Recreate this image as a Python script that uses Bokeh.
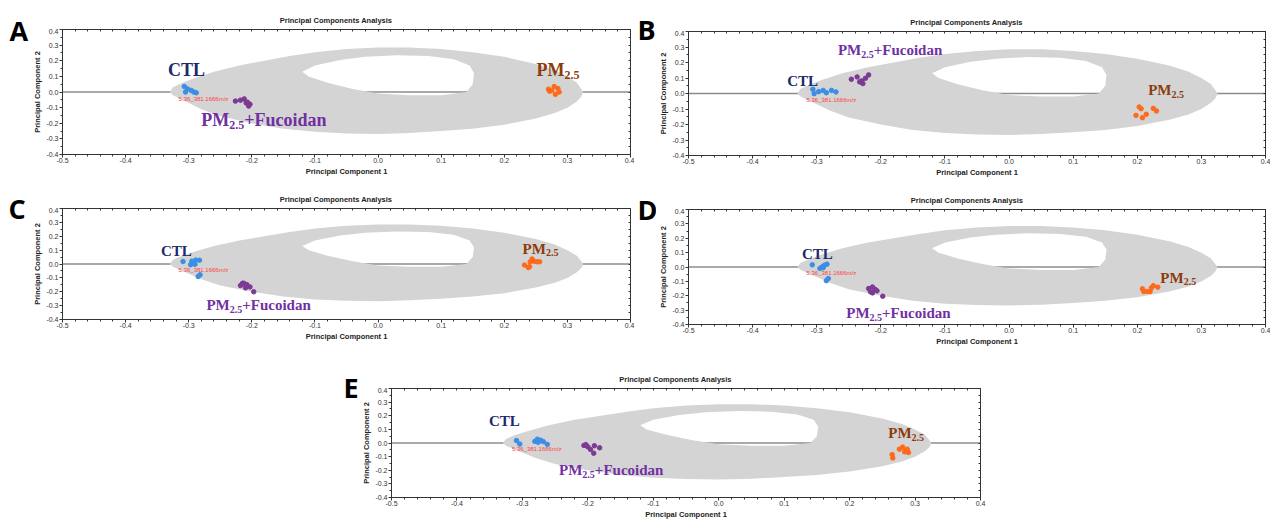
import numpy as np
from bokeh.plotting import figure
from bokeh.layouts import column, row, Spacer
from bokeh.models import Label, Span, FixedTicker, LinearAxis, Range1d
from bokeh.core.properties import value
from bokeh.embed import file_html
from bokeh.resources import INLINE

# ---------------- axis ticks ----------------
X_TICKS = [-0.5, -0.4, -0.3, -0.2, -0.1, 0.0, 0.1, 0.2, 0.3, 0.4]
X_TICK_LABELS = ["-0.5", "-0.4", "-0.3", "-0.2", "-0.1", "0.0", "0.1", "0.2", "0.3", "0.4"]
Y_TICKS = [-0.4, -0.3, -0.2, -0.1, 0.0, 0.1, 0.2, 0.3, 0.4]
Y_TICK_LABELS = ["-0.4", "-0.3", "-0.2", "-0.1", "0.0", "0.1", "0.2", "0.3", "0.4"]

# ---------------- loading cloud outline (grey) ----------------
CLOUD_X = [-0.330, -0.325, -0.310, -0.290, -0.260, -0.220, -0.180, -0.140, -0.100, -0.050,
           0.000, 0.050, 0.100, 0.150, 0.200, 0.250, 0.280, 0.300, 0.315, 0.322, 0.325,
           0.322, 0.315, 0.300, 0.280, 0.250, 0.200, 0.150, 0.100, 0.050, 0.000,
           -0.050, -0.100, -0.150, -0.200, -0.250, -0.280, -0.300, -0.315, -0.325]
CLOUD_Y = [0.000, 0.030, 0.060, 0.090, 0.130, 0.170, 0.200, 0.230, 0.255, 0.275,
           0.285, 0.285, 0.275, 0.255, 0.225, 0.180, 0.140, 0.100, 0.060, 0.020, 0.000,
           -0.030, -0.060, -0.100, -0.135, -0.170, -0.210, -0.235, -0.250, -0.262, -0.268,
           -0.265, -0.255, -0.235, -0.200, -0.155, -0.110, -0.070, -0.040, -0.020]
HOLE_X = [-0.120, -0.100, -0.060, -0.020, 0.030, 0.080, 0.120, 0.145, 0.152, 0.150,
          0.140, 0.100, 0.050, 0.000, -0.040, -0.080, -0.110]
HOLE_Y = [0.130, 0.170, 0.205, 0.225, 0.235, 0.230, 0.210, 0.170, 0.120, 0.050,
          0.000, -0.020, -0.020, -0.010, 0.020, 0.060, 0.100]

# ---------------- sample scores ----------------
A_CTL_X = [-0.307, -0.302, -0.305, -0.296, -0.292, -0.288]
A_CTL_Y = [0.035, 0.020, 0.000, 0.010, 0.000, -0.005]
A_FUC_X = [-0.226, -0.218, -0.212, -0.209, -0.205, -0.203, -0.207]
A_FUC_Y = [-0.058, -0.052, -0.044, -0.070, -0.090, -0.078, -0.065]
A_PM_X = [0.270, 0.279, 0.285, 0.275, 0.287, 0.281, 0.272]
A_PM_Y = [0.018, 0.035, 0.022, 0.010, 0.000, -0.015, 0.005]

B_CTL_X = [-0.306, -0.304, -0.297, -0.290, -0.285, -0.277, -0.270]
B_CTL_Y = [0.027, -0.001, 0.012, 0.020, 0.005, 0.020, 0.010]
B_FUC_X = [-0.246, -0.237, -0.230, -0.224, -0.228, -0.219, -0.233]
B_FUC_Y = [0.092, 0.107, 0.081, 0.098, 0.064, 0.120, 0.075]
B_PM_X = [0.203, 0.206, 0.198, 0.208, 0.214, 0.225, 0.230]
B_PM_Y = [-0.087, -0.098, -0.141, -0.156, -0.134, -0.096, -0.113]

C_CTL_X = [-0.309, -0.295, -0.292, -0.289, -0.283, -0.290, -0.297, -0.282, -0.285]
C_CTL_Y = [0.018, 0.020, 0.005, 0.028, 0.027, -0.002, -0.005, -0.078, -0.090]
C_FUC_X = [-0.218, -0.213, -0.208, -0.210, -0.203, -0.215, -0.197]
C_FUC_Y = [-0.155, -0.138, -0.148, -0.172, -0.165, -0.140, -0.200]
C_PM_X = [0.232, 0.238, 0.241, 0.244, 0.247, 0.252, 0.256, 0.240]
C_PM_Y = [-0.008, -0.025, 0.015, 0.036, 0.020, 0.016, 0.016, -0.020]

D_CTL_X = [-0.307, -0.295, -0.292, -0.288, -0.284, -0.290, -0.282, -0.285]
D_CTL_Y = [0.015, -0.010, 0.000, 0.012, 0.020, -0.005, -0.080, -0.095]
D_FUC_X = [-0.219, -0.213, -0.209, -0.216, -0.206, -0.213, -0.197]
D_FUC_Y = [-0.150, -0.139, -0.155, -0.173, -0.166, -0.180, -0.203]
D_PM_X = [0.208, 0.210, 0.215, 0.220, 0.225, 0.222, 0.232]
D_PM_Y = [-0.152, -0.170, -0.170, -0.170, -0.130, -0.145, -0.140]

E_CTL_X = [-0.309, -0.304, -0.281, -0.277, -0.272, -0.268, -0.262, -0.276]
E_CTL_Y = [0.018, -0.008, 0.012, 0.028, 0.020, 0.010, -0.010, 0.005]
E_FUC_X = [-0.206, -0.200, -0.196, -0.190, -0.191, -0.182, -0.203]
E_FUC_Y = [-0.018, -0.028, -0.047, -0.020, -0.075, -0.035, -0.012]
E_PM_X = [0.265, 0.266, 0.276, 0.281, 0.288, 0.290, 0.284]
E_PM_Y = [-0.085, -0.110, -0.045, -0.030, -0.045, -0.070, -0.065]

# ---------------- texts ----------------
TITLE = "Principal Components Analysis"
XLABEL = "Principal Component 1"
YLABEL = "Principal Component 2"
MZ_LABEL = "5.36_381.1666m/z"

CTL_COLOR = "#3b8ee6"
FUC_COLOR = "#7b3a94"
PM_COLOR = "#ff6a1a"
CTL_TEXT = "#1b2a6b"
FUC_TEXT = "#7030a0"
PM_TEXT = "#8c3b0c"
CLOUD_COLOR = "#d4d4d4"

SERIF = "Liberation Serif"
SANS = "Liberation Sans"


def add_group_label(p, kind, pos, color, fs):
    x, y = pos
    k = fs / 18.0
    common = dict(x=x, y=y, text_font=SERIF, text_font_style="bold",
                  text_color=color, text_baseline="middle", text_align="left")
    if kind == "CTL":
        p.add_layout(Label(text="CTL", text_font_size=f"{fs}px", **common))
        return
    p.add_layout(Label(text="PM", text_font_size=f"{fs}px", **common))
    p.add_layout(Label(text="2.5", text_font_size=f"{round(12 * k, 1)}px",
                       x_offset=28 * k, y_offset=-5 * k, **common))
    if kind == "FUC":
        p.add_layout(Label(text="+Fucoidan", text_font_size=f"{fs}px", x_offset=43 * k, **common))


def style_axis(ax, ticker, ticks, labels, label, standoff, label_standoff):
    ax.ticker = ticker
    ax.major_label_overrides = {t: l for t, l in zip(ticks, labels)}
    ax.major_label_text_font = SANS
    ax.major_label_text_font_size = "7px"
    ax.major_label_text_color = "#333333"
    ax.major_label_standoff = standoff
    ax.major_tick_out = 3
    ax.major_tick_in = 0
    ax.minor_tick_out = 2
    ax.minor_tick_in = 0
    ax.axis_line_color = "#333333"
    ax.major_tick_line_color = "#333333"
    ax.minor_tick_line_color = "#333333"
    ax.axis_label = label
    ax.axis_label_text_font = SANS
    ax.axis_label_text_font_size = "7.5px"
    ax.axis_label_text_font_style = "bold"
    ax.axis_label_text_color = "#222222"
    ax.axis_label_standoff = label_standoff


def blank_fig(w, h):
    f = figure(width=w, height=h, x_range=Range1d(0, w), y_range=Range1d(0, h),
               min_border=0, x_axis_location=None, y_axis_location=None,
               output_backend="svg", toolbar_location=None, frame_align=False)
    f.grid.visible = False
    f.outline_line_color = None
    f.background_fill_color = "white"
    f.border_fill_color = "white"
    return f


def make_letter(letter, w, h, lx, baseline_from_top):
    f = blank_fig(w, h)
    f.text(x=[lx], y=[h - baseline_from_top], text=[letter], text_font=value("Open Sans"),
           text_font_size="27px", text_font_style="bold", text_color="black",
           text_align="left", text_baseline="alphabetic")
    return f


def make_strip(w, h, bl, frame_w):
    s = blank_fig(w, h)
    s.text(x=[bl + frame_w / 2 - 10], y=[7.6], text=[TITLE], text_font=value(SANS),
           text_font_size="7.5px", text_font_style="bold", text_color="#222222",
           text_align="center", text_baseline="middle")
    return s


def make_panel(w, h, bl, br, bt, bb, data, labels, fs):
    p = figure(width=w, height=h, x_range=Range1d(-0.5, 0.4), y_range=Range1d(-0.4, 0.4),
               output_backend="svg", toolbar_location=None, frame_align=False,
               min_border_left=bl, min_border_right=br, min_border_top=bt, min_border_bottom=bb)
    p.grid.visible = False
    p.background_fill_color = "white"
    p.border_fill_color = "white"
    p.outline_line_color = "#333333"

    xminor = [round(v, 3) for v in np.arange(-0.5, 0.4001, 0.02)]
    yminor = [round(v, 3) for v in np.arange(-0.4, 0.4001, 0.05)]
    style_axis(p.xaxis[0], FixedTicker(ticks=X_TICKS, minor_ticks=xminor),
               X_TICKS, X_TICK_LABELS, XLABEL, 0, 1)
    style_axis(p.yaxis[0], FixedTicker(ticks=Y_TICKS, minor_ticks=yminor),
               Y_TICKS, Y_TICK_LABELS, YLABEL, 1, 1)

    # tick marks on the top and right edges (no labels)
    for tk, loc in ((FixedTicker(ticks=[], minor_ticks=xminor), "above"),
                    (FixedTicker(ticks=[], minor_ticks=yminor), "right")):
        ax = LinearAxis(ticker=tk, major_tick_out=0, major_tick_in=0,
                        minor_tick_out=0, minor_tick_in=2, major_label_standoff=0,
                        axis_line_color="#333333", minor_tick_line_color="#333333")
        p.add_layout(ax, loc)

    p.add_layout(Span(location=0, dimension="width", line_color="#8c8c8c",
                      line_width=1.5, level="underlay"))

    p.multi_polygons(xs=[[[CLOUD_X, HOLE_X[::-1]]]], ys=[[[CLOUD_Y, HOLE_Y[::-1]]]],
                     fill_color=CLOUD_COLOR, line_color=None)

    (cx, cy), (fx, fy), (px, py) = data
    p.scatter(cx, cy, size=4.5, color=CTL_COLOR)
    p.scatter(fx, fy, size=4.5, color=FUC_COLOR)
    p.scatter(px, py, size=4.5, color=PM_COLOR)

    p.add_layout(Label(x=-0.316, y=-0.043, text=MZ_LABEL, text_font=SANS,
                       text_font_size="6px", text_color="#ff4040", text_baseline="middle"))

    ctl_pos, pm_pos, fuc_pos = labels
    add_group_label(p, "CTL", ctl_pos, CTL_TEXT, fs)
    add_group_label(p, "PM", pm_pos, PM_TEXT, fs)
    add_group_label(p, "FUC", fuc_pos, FUC_TEXT, fs)
    return p


def panel(w, strip_h, main_h, bl, br, bb, frame_w, data, labels, fs):
    s = make_strip(w, strip_h, bl, frame_w)
    p = make_panel(w, main_h, bl, br, 1, bb, data, labels, fs)
    return column(s, p, spacing=0)


# row 1 (height 185)
letA = make_letter("A", 30, 185, 9, 30)
colA = panel(604, 28, 157, 31, 4, 31, 569,
             ((A_CTL_X, A_CTL_Y), (A_FUC_X, A_FUC_Y), (A_PM_X, A_PM_Y)),
             ((-0.333, 0.144), (0.251, 0.138), (-0.280, -0.180)), 18)
letB = make_letter("B", 22, 185, 3, 29)
colB = panel(614, 30, 155, 31, 5, 30, 578,
             ((B_CTL_X, B_CTL_Y), (B_FUC_X, B_FUC_Y), (B_PM_X, B_PM_Y)),
             ((-0.346, 0.081), (0.217, 0.023), (-0.267, 0.279)), 15)
# row 2 (height 170)
letC = make_letter("C", 30, 170, 8, 23)
colC = panel(604, 22, 148, 31, 4, 36, 569,
             ((C_CTL_X, C_CTL_Y), (C_FUC_X, C_FUC_Y), (C_PM_X, C_PM_Y)),
             ((-0.344, 0.096), (0.229, 0.110), (-0.272, -0.299)), 15)
letD = make_letter("D", 22, 170, 3, 24)
colD = panel(614, 23, 147, 32, 5, 31, 577,
             ((D_CTL_X, D_CTL_Y), (D_FUC_X, D_FUC_Y), (D_PM_X, D_PM_Y)),
             ((-0.323, 0.092), (0.236, -0.074), (-0.254, -0.319)), 15)
# row 3 (height 166)
letE = make_letter("E", 30, 166, 14, 32)
colE = panel(631, 32, 134, 31, 10, 22, 590,
             ((E_CTL_X, E_CTL_Y), (E_FUC_X, E_FUC_Y), (E_PM_X, E_PM_Y)),
             ((-0.351, 0.161), (0.259, 0.073), (-0.244, -0.199)), 15)

layout = column(row(letA, colA, letB, colB, spacing=0),
                row(letC, colC, letD, colD, spacing=0),
                row(Spacer(width=329, height=166), letE, colE, spacing=0),
                spacing=0)

open("out.html", "w").write(file_html(layout, INLINE))
